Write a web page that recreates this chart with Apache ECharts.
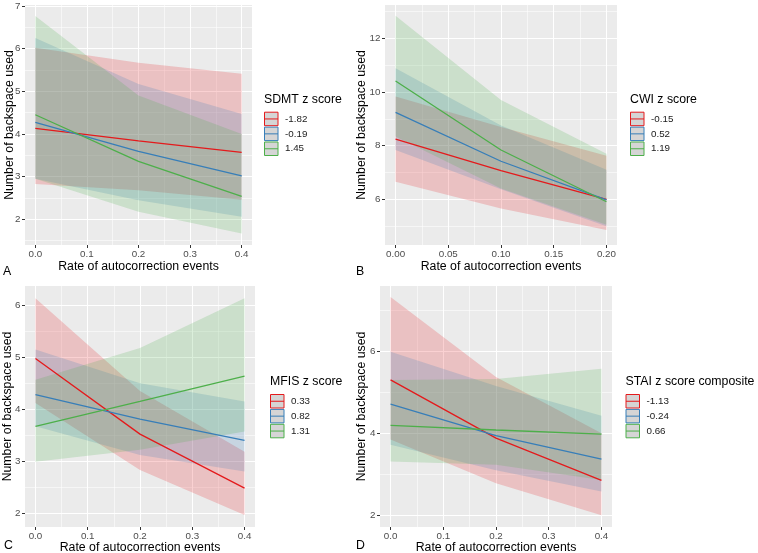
<!DOCTYPE html>
<html><head><meta charset="utf-8">
<script src="https://cdn.jsdelivr.net/npm/echarts@6/dist/echarts.min.js"></script>
<style>html,body{margin:0;padding:0;background:#fff}#c{width:758px;height:553px}</style>
</head><body><div id="c"></div><script>
// ---------- data ----------
const COLORS = ['#E41A1C', '#377EB8', '#4DAF4A'];

// Panel A : SDMT
const aX = [0, 0.2, 0.4];
const aLevels = ['-1.82', '-0.19', '1.45'];
const aFit   = [[4.13, 3.84, 3.57], [4.27, 3.59, 3.02], [4.45, 3.36, 2.54]];
const aUpper = [[6.02, 5.67, 5.41], [6.25, 5.17, 4.47], [6.76, 4.90, 4.00]];
const aLower = [[2.83, 2.68, 2.46], [2.95, 2.45, 2.06], [2.95, 2.18, 1.67]];
const aXTicks = [0, 0.1, 0.2, 0.3, 0.4];
const aYTicks = [2, 3, 4, 5, 6, 7];

// Panel B : CWI
const bX = [0, 0.1, 0.2];
const bLevels = ['-0.15', '0.52', '1.19'];
const bFit   = [[8.24, 7.07, 6.00], [9.24, 7.42, 5.98], [10.41, 7.84, 5.91]];
const bUpper = [[9.83, 8.70, 7.62], [10.88, 8.75, 7.10], [12.84, 9.70, 7.70]];
const bLower = [[6.66, 5.66, 4.86], [7.84, 6.38, 5.00], [8.34, 6.40, 5.05]];
const bXTicks = [0, 0.05, 0.1, 0.15, 0.2];
const bYTicks = [6, 8, 10, 12];

// Panel C : MFIS
const cX = [0, 0.2, 0.4];
const cLevels = ['0.33', '0.82', '1.31'];
const cFit   = [[4.98, 3.52, 2.48], [4.28, 3.81, 3.40], [3.67, 4.15, 4.64]];
const cUpper = [[6.14, 4.35, 3.18], [5.15, 4.50, 4.15], [4.57, 5.18, 6.14]];
const cLower = [[4.12, 2.83, 1.96], [3.67, 3.12, 2.80], [2.99, 3.22, 3.57]];
const cXTicks = [0, 0.1, 0.2, 0.3, 0.4];
const cYTicks = [2, 3, 4, 5, 6];

// Panel D : STAI
const dX = [0, 0.2, 0.4];
const dLevels = ['-1.13', '-0.24', '0.66'];
const dFit   = [[5.30, 3.88, 2.85], [4.71, 3.94, 3.37], [4.19, 4.08, 3.98]];
const dUpper = [[7.32, 5.37, 4.00], [5.99, 5.15, 4.43], [5.30, 5.32, 5.57]];
const dLower = [[3.85, 2.78, 2.00], [3.72, 3.10, 2.58], [3.31, 3.23, 2.86]];
const dXTicks = [0, 0.1, 0.2, 0.3, 0.4];
const dYTicks = [2, 4, 6];

const xTitle = 'Rate of autocorrection events';
const yTitle = 'Number of backspace used';

// ---------- layout ----------
const FONT = 'Liberation Sans, Arial, sans-serif';
const panels = [
  {tag:'A', legendTitle:'SDMT z score', x:aX, levels:aLevels, fit:aFit, hi:aUpper, lo:aLower,
   xTicks:aXTicks, xMinor:[0.05,0.15,0.25,0.35], xDigits:1, yTicks:aYTicks, yMinor:[1.5,2.5,3.5,4.5,5.5,6.5],
   grid:{left:25, top:5, width:227, height:240}, xMin:-0.02, xMax:0.42, yMin:1.40, yMax:7.02,
   yGap:9.5, xGap:16, legend:[264,111.7], title:[264,94], tagPos:[3,266]},
  {tag:'B', legendTitle:'CWI z score', x:bX, levels:bLevels, fit:bFit, hi:bUpper, lo:bLower,
   xTicks:bXTicks, xMinor:[0.025,0.075,0.125,0.175], xDigits:2, yTicks:bYTicks, yMinor:[5,7,9,11,13],
   grid:{left:385, top:5, width:232, height:240}, xMin:-0.01, xMax:0.21, yMin:4.30, yMax:13.24,
   yGap:17, xGap:16, legend:[630,111.7], title:[630,94], tagPos:[356,266]},
  {tag:'C', legendTitle:'MFIS z score', x:cX, levels:cLevels, fit:cFit, hi:cUpper, lo:cLower,
   xTicks:cXTicks, xMinor:[0.05,0.15,0.25,0.35], xDigits:1, yTicks:cYTicks, yMinor:[2.5,3.5,4.5,5.5],
   grid:{left:25, top:286, width:230, height:241}, xMin:-0.02, xMax:0.42, yMin:1.73, yMax:6.376,
   yGap:11, xGap:14.5, legend:[270,394], title:[270,376], tagPos:[4,540]},
  {tag:'D', legendTitle:'STAI z score composite', x:dX, levels:dLevels, fit:dFit, hi:dUpper, lo:dLower,
   xTicks:dXTicks, xMinor:[0.05,0.15,0.25,0.35], xDigits:1, yTicks:dYTicks, yMinor:[3,5,7],
   grid:{left:380, top:286, width:232, height:241}, xMin:-0.02, xMax:0.42, yMin:1.715, yMax:7.59,
   yGap:12, xGap:14.5, legend:[625.5,394], title:[625.5,376], tagPos:[356,540]}
];

const grids = [], xAxes = [], yAxes = [], series = [], legends = [], titles = [];
const tickLabel = {color:'#4D4D4D', fontSize:9.8, fontFamily:FONT};
const nameStyle = {color:'#000', fontSize:12.3, fontFamily:FONT};

panels.forEach((p, pi) => {
  grids.push(Object.assign({show:true, backgroundColor:'#EBEBEB', borderWidth:0, containLabel:false, outerBoundsMode:'none'}, p.grid));
  // main x axis
  xAxes.push({type:'value', gridIndex:pi, min:p.xMin, max:p.xMax,
    name:xTitle, nameLocation:'middle', nameGap:p.xGap, nameMoveOverlap:false, nameTextStyle:nameStyle,
    axisLine:{show:false, onZero:false},
    axisTick:{show:true, length:3, lineStyle:{color:'#333', width:1}, customValues:p.xTicks},
    axisLabel:Object.assign({margin:4.5, customValues:p.xTicks, formatter:v=>Number(v).toFixed(p.xDigits)}, tickLabel),
    splitLine:{show:true, lineStyle:{color:'#fff', width:1.1}}});
  // minor x axis
  xAxes.push({type:'value', gridIndex:pi, min:p.xMin, max:p.xMax, position:'bottom',
    axisLine:{show:false, onZero:false}, axisLabel:{show:false, customValues:p.xMinor},
    axisTick:{show:false, customValues:p.xMinor},
    splitLine:{show:true, lineStyle:{color:'#fff', width:0.55}}});
  yAxes.push({type:'value', gridIndex:pi, min:p.yMin, max:p.yMax,
    name:yTitle, nameLocation:'middle', nameGap:p.yGap, nameMoveOverlap:false, nameTextStyle:nameStyle,
    axisLine:{show:false, onZero:false},
    axisTick:{show:true, length:3, lineStyle:{color:'#333', width:1}, customValues:p.yTicks},
    axisLabel:Object.assign({margin:4.5, customValues:p.yTicks}, tickLabel),
    splitLine:{show:true, lineStyle:{color:'#fff', width:1.1}}});
  yAxes.push({type:'value', gridIndex:pi, min:p.yMin, max:p.yMax, position:'left',
    axisLine:{show:false, onZero:false}, axisLabel:{show:false, customValues:p.yMinor},
    axisTick:{show:false, customValues:p.yMinor},
    splitLine:{show:true, lineStyle:{color:'#fff', width:0.55}}});

  const xi = 2 * pi, yi = 2 * pi;
  p.levels.forEach((lev, g) => {
    const xs = p.x, lo = p.lo[g], hi = p.hi[g];
    series.push({
      type:'custom', name:lev, xAxisIndex:xi, yAxisIndex:yi, z:2, silent:true, animation:false,
      data: xs.map((xv, i) => [xv, lo[i], hi[i]]),
      encode:{x:0, y:[1, 2]},
      renderItem: (params, api) => {
        if (params.dataIndex !== 0) return null;
        const pts = [];
        for (let i = 0; i < xs.length; i++) pts.push(api.coord([xs[i], hi[i]]));
        for (let i = xs.length - 1; i >= 0; i--) pts.push(api.coord([xs[i], lo[i]]));
        return {type:'polygon', shape:{points:pts}, style:{fill:COLORS[g], opacity:0.2}};
      }
    });
  });
  p.levels.forEach((lev, g) => {
    series.push({
      type:'line', name:lev, xAxisIndex:xi, yAxisIndex:yi, z:3, silent:true, animation:false,
      showSymbol:false, symbol:'none',
      data: p.x.map((xv, i) => [xv, p.fit[g][i]]),
      lineStyle:{color:COLORS[g], width:1.3}, itemStyle:{color:COLORS[g]}
    });
  });

  legends.push({
    left:p.legend[0], top:p.legend[1], orient:'vertical', padding:0, itemGap:0.4,
    itemWidth:13.5, itemHeight:13.5, selectedMode:false,
    icon:'path://M0,0H14V14H0Z M0,7H14',
    textStyle:{fontSize:9.8, color:'#1A1A1A', fontFamily:FONT, padding:[0,0,0,2]},
    data: p.levels.map((lev, g) => ({name:lev, itemStyle:{color:'#D5D5D5', borderColor:COLORS[g], borderWidth:1}}))
  });
  titles.push({text:p.legendTitle, left:p.title[0], top:p.title[1], padding:0,
    textStyle:{fontSize:12.3, fontWeight:'normal', color:'#000', fontFamily:FONT}});
  titles.push({text:p.tag, left:p.tagPos[0], top:p.tagPos[1], padding:0,
    textStyle:{fontSize:12.3, fontWeight:'normal', color:'#000', fontFamily:FONT}});
});

const chart = echarts.init(document.getElementById('c'), null, {renderer:'canvas'});
chart.setOption({
  animation:false,
  backgroundColor:'#FFFFFF',
  title:titles, grid:grids, xAxis:xAxes, yAxis:yAxes, legend:legends, series:series
});
</script></body></html>
